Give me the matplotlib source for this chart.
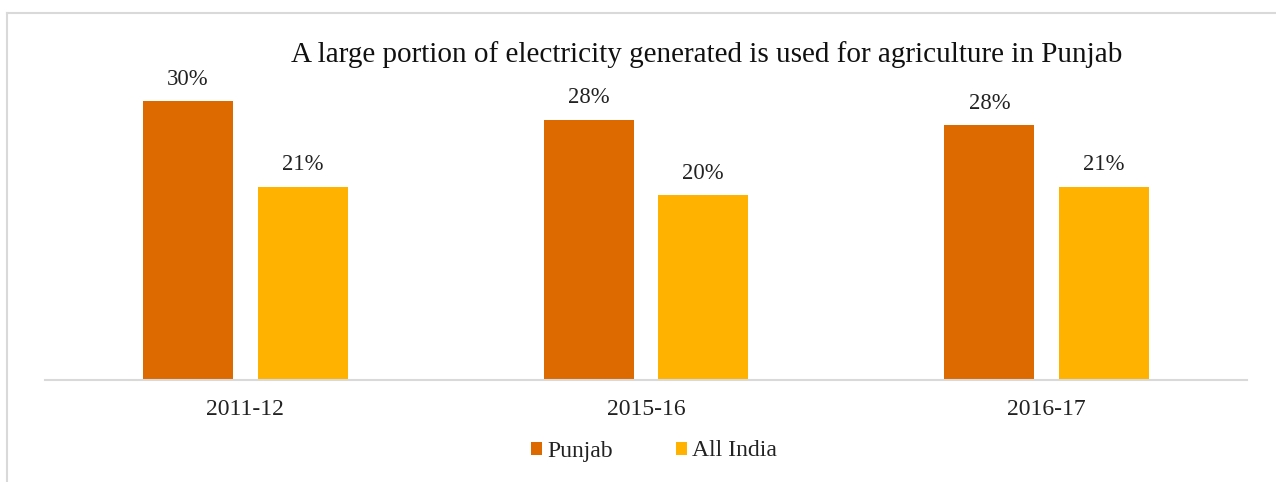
import matplotlib
matplotlib.use("Agg")
import matplotlib.pyplot as plt
import numpy as np
from matplotlib.lines import Line2D

categories = ["2011-12", "2015-16", "2016-17"]
punjab = [30.0, 28.0, 27.4]
all_india = [20.8, 19.9, 20.8]
punjab_labels = ["30%", "28%", "28%"]
all_india_labels = ["21%", "20%", "21%"]
title = "A large portion of electricity generated is used for agriculture in Punjab"

plt.rcParams['font.family'] = ['Liberation Serif', 'DejaVu Serif']

W, H = 1276, 482
fig = plt.figure(figsize=(W / 100, H / 100), dpi=100)

# border (left and top visible)
fig.add_artist(Line2D([7 / W, 7 / W], [0, 1 - 13 / H], transform=fig.transFigure,
                      color="#d9d9d9", lw=1.5))
fig.add_artist(Line2D([7 / W, 1], [1 - 13 / H, 1 - 13 / H], transform=fig.transFigure,
                      color="#d9d9d9", lw=1.5))

ax_left, ax_right = 45 / W, 1247 / W
ax_bottom = 1 - 380 / H
ax_top = 1 - 54.5 / H
ax = fig.add_axes([ax_left, ax_bottom, ax_right - ax_left, ax_top - ax_bottom])

x = np.arange(len(categories))
bw = 0.224
off = 0.143
c1, c2 = "#dd6a00", "#ffb300"
b1 = ax.bar(x - off, punjab, bw, color=c1, label="Punjab")
b2 = ax.bar(x + off, all_india, bw, color=c2, label="All India")

for bars, labs in ((b1, punjab_labels), (b2, all_india_labels)):
    for b, lab in zip(bars, labs):
        ax.annotate(lab, (b.get_x() + b.get_width() / 2, b.get_height()),
                    xytext=(0, 8), textcoords="offset points",
                    ha="center", va="bottom", fontsize=16.3, color="#222222")

ax.set_xlim(-0.5, len(categories) - 0.5)
ax.set_ylim(0, 35)
ax.set_xticks(x)
ax.set_xticklabels(categories, fontsize=17, color="#222222")
ax.tick_params(axis="x", length=0, pad=14)
ax.set_yticks([])
for s in ("top", "right", "left"):
    ax.spines[s].set_visible(False)
ax.spines["bottom"].set_color("#d9d9d9")
ax.spines["bottom"].set_linewidth(1.5)

fig.text(707 / W, 1 - 54.5 / H, title, ha="center", va="center", fontsize=21, color="#111111")

leg = fig.legend(handles=[b1, b2], loc="center", bbox_to_anchor=(654 / W, 1 - 451 / H),
                 ncol=2, frameon=False, fontsize=17, handlelength=0.47, handleheight=0.47,
                 handletextpad=0.2, columnspacing=2.7)
for t in leg.get_texts():
    t.set_color("#222222")

fig.savefig("out.png", dpi=100)
